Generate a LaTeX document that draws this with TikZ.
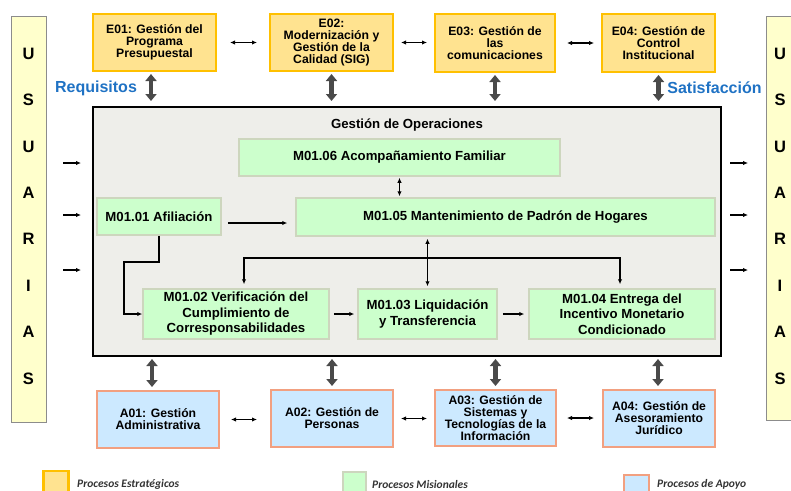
\documentclass[tikz,border=0pt]{standalone}
\usepackage{fontspec}
\setmainfont{Liberation Sans}
\newfontfamily\legfont{Carlito}
\usetikzlibrary{arrows.meta,calc}
\definecolor{estfill}{HTML}{FFE390}
\definecolor{estdraw}{HTML}{FFC000}
\definecolor{misfill}{HTML}{CCFFCC}
\definecolor{misdraw}{HTML}{CDD6BE}
\definecolor{apofill}{HTML}{CCE9FF}
\definecolor{apodraw}{HTML}{F2A080}
\definecolor{opsfill}{HTML}{EEEEEA}
\definecolor{usrfill}{HTML}{FFFFCC}
\definecolor{usrdraw}{HTML}{8C8C8C}
\definecolor{bluetxt}{HTML}{1F72C4}
\definecolor{bigarr}{HTML}{4A4A4A}
\definecolor{legtxt}{HTML}{333333}
\begin{document}
\begin{tikzpicture}[x=1pt,y=-1pt,
  box/.style={rectangle, inner sep=0pt, align=center, font=\bfseries\fontsize{12.2}{12}\selectfont},
  est/.style={box, fill=estfill, draw=estdraw, line width=2pt},
  apo/.style={box, fill=apofill, draw=apodraw, line width=2pt},
  mis/.style={rectangle, inner sep=0pt, align=center, fill=misfill, draw=misdraw, line width=1.5pt, font=\bfseries\fontsize{13.2}{15.5}\selectfont},
  usr/.style={rectangle, fill=usrfill, draw=usrdraw, line width=1pt},
  thin/.style={line width=1.1pt, -{Latex[length=5pt,width=4.5pt]}},
  twoway/.style={line width=1.1pt, {Latex[length=5pt,width=4.5pt]}-{Latex[length=5pt,width=4.5pt]}},
  bigway/.style={draw=bigarr, line width=4.5pt, {Triangle[width=11pt,length=7pt]}-{Triangle[width=11pt,length=7pt]}},
  sidelbl/.style={font=\bfseries\fontsize{16}{18}\selectfont, text=bluetxt, inner sep=0pt},
  legtext/.style={font=\legfont\bfseries\itshape\fontsize{11.5}{13}\selectfont, text=legtxt, anchor=west, inner sep=0pt}
]
\clip (0,0) rectangle (791,490);
\useasboundingbox (0,0) rectangle (791,490);

% USUARIAS columns
\node[usr, minimum width=35pt, minimum height=406pt] (usL) at (28.5,219) {};
\node[usr, minimum width=35pt, minimum height=404pt] (usR) at (783.5,218) {};
\node[align=center, inner sep=0pt, font=\bfseries\fontsize{16.5}{46.4}\selectfont] (usLt) at (28.5,216) {U\\S\\U\\A\\R\\I\\A\\S};
\node[align=center, inner sep=0pt, font=\bfseries\fontsize{16.5}{46.4}\selectfont] (usRt) at (780,216) {U\\S\\U\\A\\R\\I\\A\\S};

% strategic processes
\node[est, minimum width=123pt, minimum height=57pt] (E01) at (154.5,42.5) {E01: Gestión del\\Programa\\Presupuestal};
\node[est, minimum width=123pt, minimum height=57pt] (E02) at (331.5,42.5) {E02:\\Modernización y\\Gestión de la\\Calidad (SIG)};
\node[est, minimum width=120pt, minimum height=58pt] (E03) at (495,43) {E03: Gestión de\\las\\comunicaciones};
\node[est, minimum width=113pt, minimum height=58pt] (E04) at (658.5,43) {E04: Gestión de\\Control\\Institucional};

% operations box
\node[rectangle, fill=opsfill, draw=black, line width=2pt, minimum width=628pt, minimum height=249pt] (ops) at (407,231.5) {};
\node[inner sep=0pt, font=\bfseries\fontsize{13.2}{15}\selectfont] (opst) at (407,125) {Gestión de Operaciones};

% support processes
\node[apo, minimum width=122pt, minimum height=57pt] (A01) at (158,419.5) {A01: Gestión\\Administrativa};
\node[apo, minimum width=122pt, minimum height=57pt] (A02) at (332,418.5) {A02: Gestión de\\Personas};
\node[apo, minimum width=121pt, minimum height=56pt] (A03) at (495.5,418) {A03: Gestión de\\Sistemas y\\Tecnologías de la\\Información};
\node[apo, minimum width=112pt, minimum height=57pt] (A04) at (659,418.5) {A04: Gestión de\\Asesoramiento\\Jurídico};

% missional processes
\node[mis, minimum width=321pt, minimum height=37pt] (m06) at (399.5,157.5) {M01.06 Acompañamiento Familiar};
\node[mis, minimum width=124pt, minimum height=37pt] (m01) at (159,216.5) {M01.01 Afiliación};
\node[mis, minimum width=419pt, minimum height=38pt] (m05) at (505.5,217) {M01.05 Mantenimiento de Padrón de Hogares};
\node[mis, minimum width=186pt, minimum height=50pt] (m02) at (236,314) {M01.02 Verificación del\\Cumplimiento de\\Corresponsabilidades};
\node[mis, minimum width=139pt, minimum height=50pt] (m03) at (427.5,314) {M01.03 Liquidación\\y Transferencia};
\node[mis, minimum width=186pt, minimum height=50pt] (m04) at (622,314) {M01.04 Entrega del\\Incentivo Monetario\\Condicionado};

% labels
\node[sidelbl] (req) at (96,88) {Requisitos};
\node[sidelbl] (sat) at (714.5,88) {Satisfacción};

% two-way links between strategic boxes
\draw[twoway, shorten <=13pt, shorten >=12pt] (E01.east) -- (E02.west);
\draw[twoway, shorten <=7pt, shorten >=7pt] (E02.east) -- (E03.west |- E02.east);
\draw[twoway, shorten <=11pt, shorten >=7pt] (E03.east) -- (E04.west);
% two-way links between support boxes
\draw[twoway, shorten <=11pt, shorten >=13pt] (A01.east) -- (A02.west |- A01.east);
\draw[twoway, shorten <=7pt, shorten >=7pt] (A02.east) -- (A03.west |- A02.east);
\draw[twoway, shorten <=10pt, shorten >=8pt] (A03.east) -- (A04.west |- A03.east);

% big double arrows
\foreach \n/\dx in {E01/-3.5,E02/0,E03/0,E04/0}{
  \draw[bigway, shorten <=2pt, shorten >=5pt] ([xshift=\dx pt]\n.south) -- ([xshift=\dx pt]\n.south |- ops.north);
}
\foreach \n/\dx in {A01/-6,A02/0,A03/0,A04/-1}{
  \draw[bigway, shorten <=2pt, shorten >=3pt] ([xshift=\dx pt]\n.north |- ops.south) -- ([xshift=\dx pt]\n.north);
}

% user arrows
\foreach \yy/\k in {163/a,215/b,270/c}{
  \coordinate (li\k) at (63,\yy);
  \coordinate (lo\k) at (81,\yy);
  \coordinate (ri\k) at (730,\yy);
  \coordinate (ro\k) at (748,\yy);
  \draw[thin] (li\k) -- (lo\k);
  \draw[thin] (ri\k) -- (ro\k);
}

% internal connectors
\draw[twoway, shorten <=1pt, shorten >=1pt] (m06.south -| m06.south) -- (m05.north -| m06.south);
\draw[twoway, shorten <=2pt, shorten >=2pt] (m05.south -| m03.north) -- (m03.north);
\coordinate (b1) at (244,258);
\coordinate (b2) at (620,258);
\draw[twoway, shorten <=4pt, shorten >=4pt] (b1 |- m02.north) -- (b1) -- (b2) -- (b2 |- m04.north);
\draw[thin, shorten <=6pt, shorten >=8pt] ([yshift=-6.5pt]m01.east) -- ([yshift=-6.5pt]m01.east -| m05.west);
\coordinate (k2) at (124,262);
\draw[thin] (m01.south) |- (k2) |- (m02.west);
\draw[thin, shorten <=4pt, shorten >=3pt] (m02.east) -- (m03.west);
\draw[thin, shorten <=5pt, shorten >=4pt] (m03.east) -- (m04.west);

% legend
\node[rectangle, fill=estfill, draw=estdraw, line width=2.5pt, minimum width=25pt, minimum height=26pt] (lg1) at (56,484) {};
\node[legtext] (lg1t) at (77,484) {Procesos Estratégicos};
\node[rectangle, fill=misfill, draw=misdraw, line width=2pt, minimum width=23pt, minimum height=24pt] (lg2) at (354,484) {};
\node[legtext] (lg2t) at (372,484) {Procesos Misionales};
\node[rectangle, fill=apofill, draw=apodraw, line width=2pt, minimum width=25pt, minimum height=24pt] (lg3) at (636,487) {};
\node[legtext] (lg3t) at (657,484) {Procesos de Apoyo};
\end{tikzpicture}
\end{document}
